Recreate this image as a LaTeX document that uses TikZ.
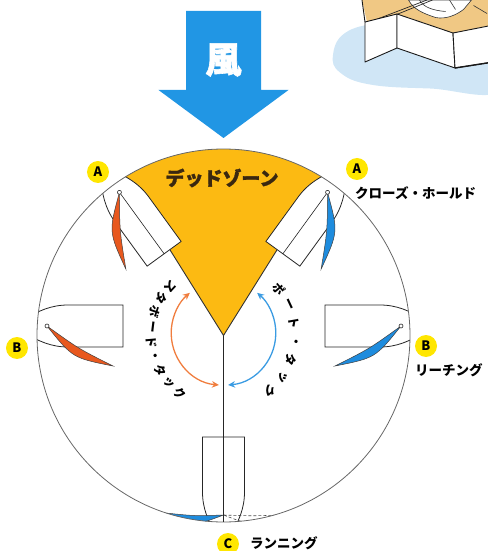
\documentclass[tikz,border=0pt]{standalone}
\usepackage{fontspec}
\newfontfamily\jp{Noto Sans CJK JP}
\newfontfamily\jpheavy{Noto Sans CJK JP}[BoldFeatures={FakeBold=1.6}]
\usetikzlibrary{arrows.meta}

\definecolor{windblue}{RGB}{33,150,228}
\definecolor{deadyellow}{RGB}{252,186,18}
\definecolor{badgeyellow}{RGB}{255,230,0}
\definecolor{sailorange}{RGB}{232,88,30}
\definecolor{sailblue}{RGB}{30,140,222}
\definecolor{tackorange}{RGB}{240,125,62}
\definecolor{tackblue}{RGB}{58,155,226}
\definecolor{zonetext}{RGB}{58,40,16}
\definecolor{shadowblue}{RGB}{208,230,246}
\definecolor{deck}{RGB}{240,200,132}

\tikzset{
  hull/.style={draw=black!85, line width=0.8pt, fill=white},
  rim/.style={draw=black!60, line width=0.8pt},
  zoneedge/.style={draw=black!80, line width=0.9pt},
  sailedge/.style={draw=black!75, line width=0.5pt},
  badge/.style={circle, fill=badgeyellow, inner sep=0pt, minimum size=22pt,
    font=\jp\bfseries\fontsize{13}{13}\selectfont},
  caption/.style={anchor=west, inner sep=0pt, font=\jp\bfseries\fontsize{13.5}{13.5}\selectfont},
  arcchar/.style={inner sep=0pt, font=\jp\bfseries\fontsize{12}{12}\selectfont},
  tackarrow/.style={line width=1.3pt, {Stealth[length=7pt,width=6.5pt]}-{Stealth[length=7pt,width=6.5pt]}},
  sailfill/.store in=\sailcolour, sailfill=sailorange,
  dinghy/.pic={
    \draw[hull] (0,-21) -- (55,-21) .. controls (72,-21) and (85,-15) .. (100,-6)
      -- (100,6) .. controls (85,15) and (72,21) .. (55,21) -- (0,21) -- cycle;
  },
  rig/.pic={
    \filldraw[sailedge, fill=\sailcolour] (76,0) .. controls (44.6,22.6) .. (10,40)
      .. controls (50.3,32) .. (76,0);
    \draw[hull, line width=0.6pt] (76,0) circle[radius=2];
  },
}

\begin{document}
\begin{tikzpicture}[x=1pt,y=1pt]
\path[use as bounding box] (-223.5,-215.5) rectangle (263.5,335.5);

% dinghy sketch in the upper right corner
\fill[shadowblue] plot[smooth cycle, tension=0.7] coordinates
  {(109.5,280.5) (121.5,302.5) (156.5,312.5) (206.5,314) (280,312) (280,246)
   (206.5,247) (146.5,251) (116.5,263)};
\fill[deck] (138.5,335.5) -- (270,335.5) -- (270,310) -- (229.5,302.5)
  -- (173.5,321.5) -- (143.5,313.5) -- cycle;
\filldraw[fill=white, draw=black!80, line width=0.6pt]
  (185,335.5) .. controls (190,326) and (200,322) .. (212,318)
  .. controls (222,316) and (232,320) .. (240,326) -- (248,335.5) -- cycle;
\draw[black!80, line width=0.6pt] (196,335.5) .. controls (200,328) and (210,325) .. (222,324);
\draw[black!80, line width=0.6pt] (226,335.5) -- (232,326) (250,330) -- (263.5,322);
\draw[black!85, line width=0.7pt] (143.5,312.5) -- (203.5,335.5) (146,310) -- (209,335.5);
\filldraw[fill=white, draw=black!90, line width=0.9pt, line join=round]
  (141.5,313.5) -- (173.5,321.5) -- (173.5,287.5) -- (141.5,273.5) -- cycle;
\filldraw[fill=white, draw=black!90, line width=0.9pt, line join=round]
  (173.5,321.5) -- (229.5,302.5) -- (231.5,267.5) -- (173.5,287.5) -- cycle;
\filldraw[fill=white, draw=black!90, line width=0.9pt, line join=round]
  (229.5,302.5) -- (270,310.5) -- (270,273.5) -- (231.5,267.5) -- cycle;
\draw[black!90, line width=1.4pt] (231.5,267.5) -- (270,273.5);
\draw[black!90, line width=0.9pt] (141.5,313.5) -- (138.5,335.5);

% wind arrow
\fill[windblue] (-37.5,324.5) -- (37.5,324.5) -- (37.5,245.5) -- (65,245.5)
  -- (0,197.5) -- (-65,245.5) -- (-37.5,245.5) -- cycle;
\node[text=white, font=\jpheavy\bfseries\fontsize{36}{36}\selectfont] (wind) at (0,275.5) {風};

% dead zone sector
\fill[deadyellow] (0,0) -- (58:186.5) arc[start angle=58, end angle=122, radius=186.5] -- cycle;
\draw[zoneedge] (122:186.5) -- (0,0) -- (58:186.5);
\node[text=zonetext, font=\jpheavy\bfseries\fontsize{19}{19}\selectfont] (zone) at (-1.5,157.5) {デッドゾーン};

% boats on the points of sail
\begin{scope}
  \clip (0,0) circle[radius=186.5];
  % close-hauled
  \begin{scope}[shift={(126:101)}, rotate=126]
    \pic[transform shape] {dinghy};
    \draw[black!85, line width=0.6pt] (0,0) -- (76,0);
    \pic[transform shape, sailfill=sailorange] {rig};
  \end{scope}
  \begin{scope}[shift={(54:101)}, rotate=54, yscale=-1]
    \pic[transform shape] {dinghy};
    \draw[black!85, line width=0.6pt] (0,0) -- (76,0);
    \pic[transform shape, sailfill=sailblue] {rig};
  \end{scope}
  % reaching
  \begin{scope}[shift={(-100.5,9.5)}, rotate=180]
    \pic[transform shape] {dinghy};
    \pic[transform shape, sailfill=sailorange] {rig};
  \end{scope}
  \begin{scope}[shift={(101.5,9.5)}, yscale=-1]
    \pic[transform shape] {dinghy};
    \pic[transform shape, sailfill=sailblue] {rig};
  \end{scope}
  % running
  \begin{scope}[shift={(0,-101.5)}, rotate=-90]
    \pic[transform shape] {dinghy};
    \filldraw[sailedge, fill=sailblue] (78,0) .. controls (79,-29) .. (76,-58)
      .. controls (89,-29) .. (78,0);
    \draw[black!70, line width=0.6pt, dash pattern=on 3pt off 2pt]
      (78,0) .. controls (79,29) .. (78,58) .. controls (89,29) .. (78,0);
  \end{scope}
\end{scope}

% outer circle and wind axis
\draw[rim] (0,0) circle[radius=186.5];
\draw[black!85, line width=0.7pt] (0,0) -- (0,-186.5);

% tacking arrows
\draw[tackarrow, tackorange] ([shift={(0,2.6)}]265:52.3) arc[start angle=265, end angle=130, radius=52.3];
\draw[tackarrow, tackblue] ([shift={(0,2.6)}]275:52.3) arc[start angle=275, end angle=410, radius=52.3];

% tack names set along the arcs
\foreach \ch [count=\i from 0] in {ス,タ,ボ,ー,ド,・,タ,ッ,ク} {
  \pgfmathsetmacro\ang{137+12*\i}
  \node[arcchar, rotate=\ang+90] (st\i) at (\ang:72) {\ch};
}
\foreach \ch [count=\i from 0] in {ポ,ー,ト,・,タ,ッ,ク} {
  \pgfmathsetmacro\ang{40-15*\i}
  \node[arcchar, rotate=\ang-90] (pt\i) at (\ang:72) {\ch};
}

% point-of-sail badges and captions
\node[badge] (a1) at (-125.5,163.5) {A};
\node[badge] (a2) at (133.5,166.5) {A};
\node[badge] (b1) at (-206.5,-12.5) {B};
\node[badge] (b2) at (202.5,-10.5) {B};
\node[badge] (c1) at (4.5,-208.5) {C};
\node[caption] (closehauled) at (131.5,142.5) {クローズ・ホールド};
\node[caption] (reaching) at (191.5,-34.5) {リーチング};
\node[caption] (running) at (26.5,-207.5) {ランニング};
\end{tikzpicture}
\end{document}
